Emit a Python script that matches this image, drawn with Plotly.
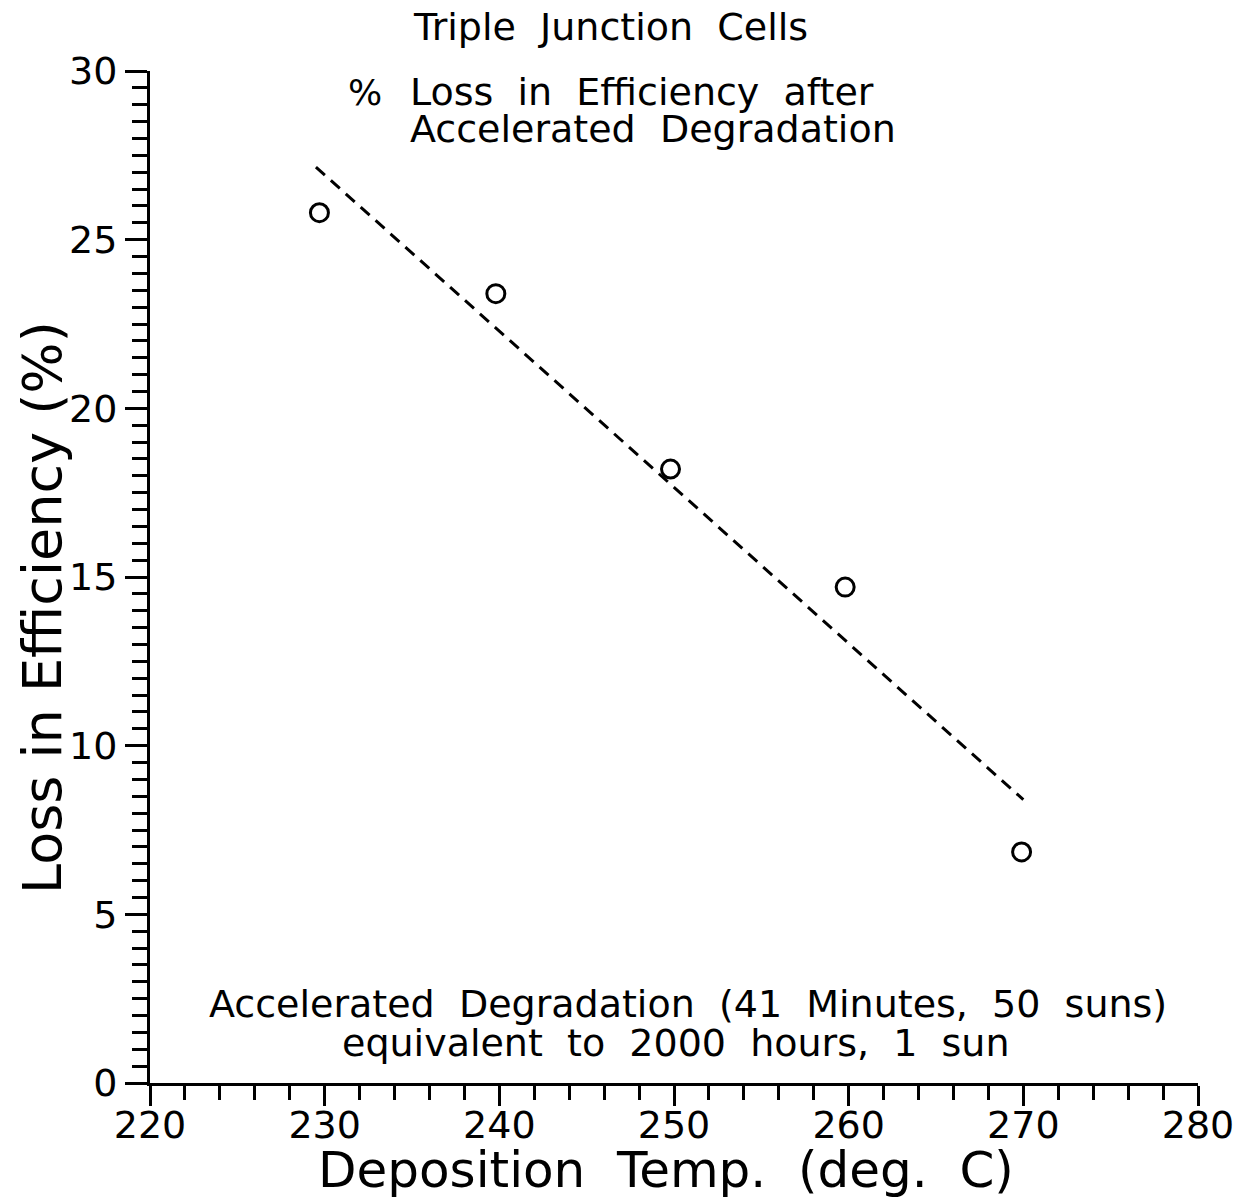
import plotly.graph_objects as go

temps = [229.7, 239.8, 249.8, 259.8, 269.9]
loss = [25.8, 23.4, 18.2, 14.7, 6.85]
fit_x = [229.5, 270.0]
fit_y = [27.15, 8.4]

x_ticks = [220, 230, 240, 250, 260, 270, 280]
y_ticks = [0, 5, 10, 15, 20, 25, 30]

FONT = "DejaVu Sans"
L, R, T, B = 150, 1198, 71, 1083


def px(x):
    return (x - L) / (R - L)


def py(y):
    return (B - y) / (B - T)


fig = go.Figure()
fig.add_trace(go.Scatter(x=fit_x, y=fit_y, mode="lines",
                         line=dict(color="black", width=3, dash="12px,8px"),
                         showlegend=False, cliponaxis=False))
fig.add_trace(go.Scatter(x=temps, y=loss, mode="markers",
                         marker=dict(symbol="circle-open", size=18, color="black",
                                     line=dict(width=3, color="black")),
                         showlegend=False, cliponaxis=False))

fig.update_layout(
    width=1247, height=1201,
    margin=dict(l=L, r=1247 - R, t=T, b=1201 - B),
    paper_bgcolor="white", plot_bgcolor="white",
    font=dict(family=FONT, color="black"),
    showlegend=False,
)
fig.update_xaxes(range=[220, 280], tickvals=x_ticks, ticktext=[str(v) for v in x_ticks],
                 showgrid=False, zeroline=False, showline=True, linecolor="black", linewidth=3,
                 ticks="outside", ticklen=20, tickwidth=3, tickcolor="black",
                 ticklabelstandoff=-14,
                 tickfont=dict(size=38, family=FONT),
                 minor=dict(dtick=2, ticks="outside", ticklen=14, tickwidth=3, tickcolor="black"))
fig.update_yaxes(range=[0, 30], tickvals=y_ticks, ticktext=[str(v) for v in y_ticks],
                 showgrid=False, zeroline=False, showline=True, linecolor="black", linewidth=3,
                 ticks="outside", ticklen=22, tickwidth=3, tickcolor="black",
                 tickfont=dict(size=38, family=FONT),
                 minor=dict(dtick=0.5, ticks="outside", ticklen=15, tickwidth=3, tickcolor="black"))

SP = "\u00a0\u00a0"
ann = [
    dict(text="Triple Junction Cells", x=610, y=27, size=38, anchor="center"),
    dict(text="%", x=365, y=92, size=36, anchor="center"),
    dict(text="Loss in Efficiency after", x=408, y=92, size=38, anchor="left"),
    dict(text="Accelerated Degradation", x=408, y=129, size=38, anchor="left"),
    dict(text="Accelerated Degradation (41 Minutes, 50 suns)", x=688, y=1004, size=38, anchor="center"),
    dict(text="equivalent to 2000 hours, 1 sun", x=676, y=1043, size=38, anchor="center"),
    dict(text="Deposition Temp. (deg. C)", x=666, y=1170, size=50, anchor="center"),
]
for a in ann:
    fig.add_annotation(text=a["text"].replace(" ", SP), x=px(a["x"]), y=py(a["y"]),
                       xref="paper", yref="paper", showarrow=False,
                       xanchor=a["anchor"], yanchor="middle",
                       font=dict(size=a["size"], family=FONT, color="black"))
fig.add_annotation(text="Loss in Efficiency (%)",
                   x=px(43), y=py(608), xref="paper", yref="paper",
                   showarrow=False, textangle=-90, xanchor="center", yanchor="middle",
                   font=dict(size=54, family=FONT, color="black"))

fig.write_html("out.html")
